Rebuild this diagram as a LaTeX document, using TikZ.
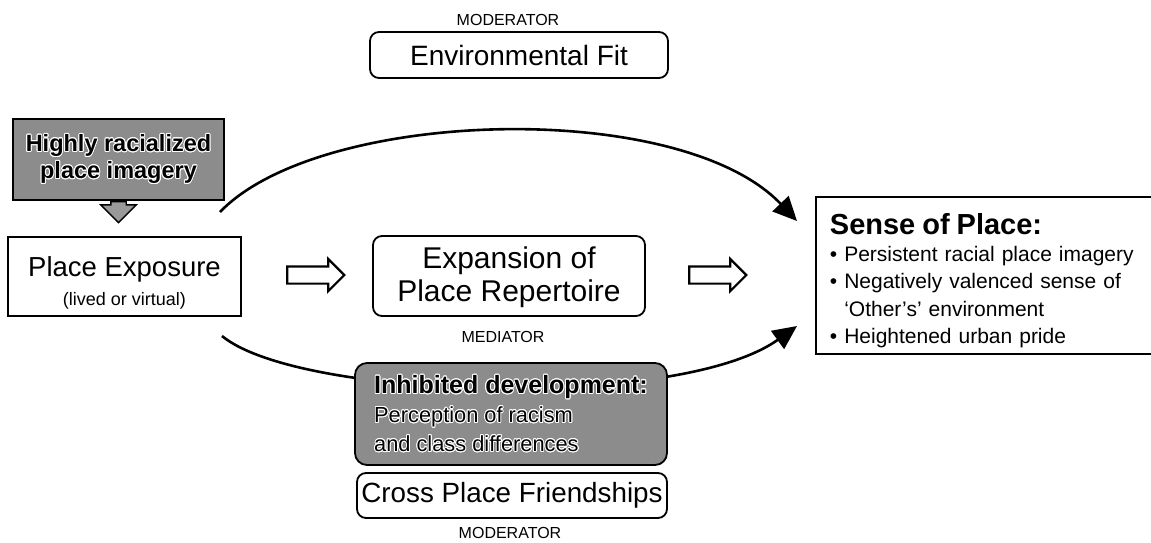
\documentclass[tikz,border=0pt]{standalone}
\usepackage{fontspec}
\setmainfont{Liberation Sans}
\usepackage{xcolor}
\usepackage{contour}
\contourlength{0.9pt}
\usepackage{tikz}
\usetikzlibrary{positioning,arrows.meta,shapes.arrows,backgrounds,calc}

\newcommand\fsz[2]{\fontsize{#1}{#2}\selectfont}
\newcommand\labtxt{\fsz{16}{18}}
\newcommand\halo[1]{\contour{white}{#1}}

\tikzset{
  plainbox/.style={draw,line width=1.8pt,inner sep=4pt,align=center},
  roundbox/.style={plainbox,rounded corners=9pt},
  shadebox/.style={draw,line width=1.8pt,fill=black!45,inner sep=4pt},
  hollow/.style={single arrow,draw,line width=2.2pt,minimum height=57pt,inner xsep=0pt,inner ysep=7.5pt,
    single arrow head extend=7.5pt},
  flow/.style={line width=2.6pt,-{Triangle[length=24pt,width=22pt]}}
}

\begin{document}
\begin{tikzpicture}[x=1pt,y=-1pt]
  \useasboundingbox (0,0) rectangle (1151,542);
  % moderator on top
  \node[font=\labtxt] (modtop) at (508,20) {MODERATOR};
  \node[roundbox,font=\fsz{28}{32},minimum width=298pt,minimum height=46pt] (envfit) at (519,55) {Environmental Fit};
  % left side
  \node[shadebox,font=\fsz{23.5}{27}\bfseries,align=center,minimum width=211pt,minimum height=81pt] (imagery) at (118.5,159.5)
    {\halo{Highly racialized}\\\halo{place imagery}};
  \node[single arrow,draw,line width=1.4pt,fill=black!40,shape border rotate=270,minimum height=21pt,
    inner xsep=7pt,inner ysep=0pt,single arrow head extend=10pt,below=0pt of imagery] (down) {};
  \node[plainbox,minimum width=233pt,minimum height=79pt,font=\fsz{18}{29}] (exposure) at (124.5,276.5)
    {{\fsz{27.5}{29}\rule{0pt}{32pt}Place Exposure}\\(lived or virtual)};
  % middle
  \node[hollow] (arr1) at (311.5,275) {};
  \node[roundbox,font=\fsz{30}{33},minimum width=272pt,minimum height=80pt] (repertoire) at (509,276)
    {\rule{0pt}{24pt}Expansion of\\Place Repertoire};
  \node[font=\labtxt] (mediator) at (503,337) {MEDIATOR};
  \node[hollow] (arr2) at (713.5,275) {};
  % outcome (runs off the right edge)
  \node[plainbox,align=left,anchor=north west,text width=318pt,inner xsep=14pt,minimum height=157pt,
    font=\fsz{21}{27.3}] (sense) at (815,196)
    {{\fsz{29}{27}\bfseries\rule{0pt}{31pt}Sense of Place:}\\
     \textbullet\ Persistent racial place imagery\\
     \textbullet\ Negatively valenced sense of\\
     \hphantom{\textbullet\ }`Other's' environment\\
     \textbullet\ Heightened urban pride};
  % lower part
  \node[shadebox,rounded corners=12pt,align=left,minimum width=312pt,minimum height=102pt,font=\fsz{21.8}{29}] (inhibit) at (511,414)
    {\halo{\fsz{25}{29}\bfseries Inhibited development:}\\\halo{Perception of racism}\\\halo{and class differences}};
  \node[roundbox,font=\fsz{27.8}{32},minimum width=310pt,minimum height=45pt] (friends) at (512,495.5) {Cross Place Friendships};
  \node[font=\labtxt] (modbot) at (510,533) {MODERATOR};
  % the two curved paths
  \coordinate (topstart) at (220,212);
  \coordinate (topend) at (797,221);
  \coordinate (botstart) at (222,336);
  \coordinate (botend) at (797,326);
  \begin{scope}[on background layer]
    \draw[flow] (topstart) .. controls (320,108) and (680,98) .. (topend);
    \draw[flow] (botstart) .. controls (300,400) and (680,410) .. (botend);
  \end{scope}
\end{tikzpicture}
\end{document}
